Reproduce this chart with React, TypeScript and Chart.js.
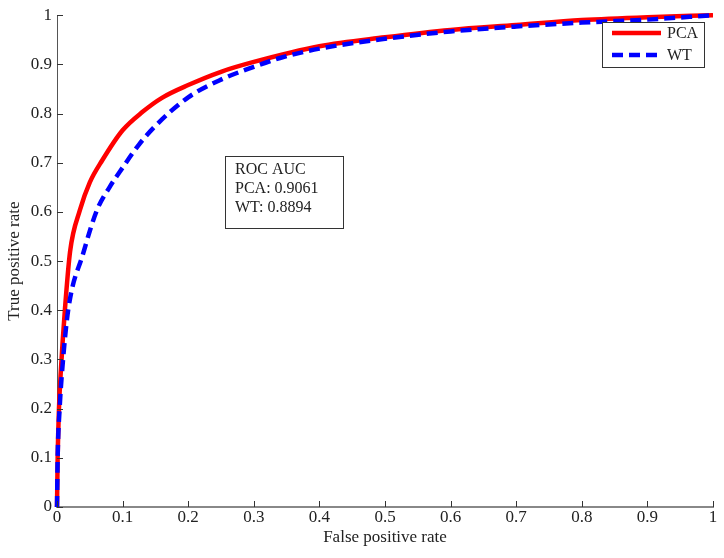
import React, { useEffect, useRef } from "react";
import { Chart, registerables } from "chart.js";

Chart.register(...registerables);

const pcaX = [0, 0.001, 0.003, 0.006, 0.012, 0.02, 0.035, 0.05, 0.069, 0.1, 0.13, 0.16, 0.2, 0.25, 0.3, 0.4, 0.5, 0.6, 0.7, 0.8, 0.9, 1];
const pcaY = [0, 0.1, 0.2, 0.28, 0.4, 0.52, 0.604, 0.66, 0.705, 0.766, 0.803, 0.832, 0.858, 0.885, 0.905, 0.937, 0.955, 0.97, 0.98, 0.99, 0.996, 1];
const wtX = [0, 0.001, 0.004, 0.008, 0.017, 0.04, 0.061, 0.08, 0.1, 0.125, 0.15, 0.2, 0.25, 0.3, 0.34, 0.4, 0.5, 0.6, 0.7, 0.8, 0.9, 1];
const wtY = [0, 0.1, 0.2, 0.28, 0.4, 0.516, 0.604, 0.65, 0.69, 0.737, 0.775, 0.833, 0.869, 0.895, 0.913, 0.932, 0.952, 0.967, 0.977, 0.985, 0.991, 1];
const seriesNames = ["PCA", "WT"];
const annotationLines = ["ROC AUC", "PCA: 0.9061", "WT: 0.8894"];
const xTitle = "False positive rate";
const yTitle = "True positive rate";

const FONT = "'Liberation Serif', 'Times New Roman', serif";

const innerTicks = {
  id: "innerTicks",
  afterDraw(chart: any) {
    const ctx = chart.ctx;
    const { left, bottom } = chart.chartArea;
    const xs = chart.scales.x;
    const ys = chart.scales.y;
    ctx.save();
    ctx.strokeStyle = "#333";
    ctx.lineWidth = 1;
    xs.ticks.forEach((t: any) => {
      const px = Math.round(xs.getPixelForValue(t.value)) + 0.5;
      ctx.beginPath();
      ctx.moveTo(px, bottom);
      ctx.lineTo(px, bottom - 6);
      ctx.stroke();
    });
    ys.ticks.forEach((t: any) => {
      const py = Math.round(ys.getPixelForValue(t.value)) + 0.5;
      ctx.beginPath();
      ctx.moveTo(left, py);
      ctx.lineTo(left + 6, py);
      ctx.stroke();
    });
    ctx.restore();
  },
};

const boxes = {
  id: "boxes",
  afterDraw(chart: any) {
    const ctx = chart.ctx;
    ctx.save();
    ctx.font = `16px ${FONT}`;
    ctx.textBaseline = "middle";
    // legend
    ctx.fillStyle = "#fff";
    ctx.fillRect(602, 22, 102, 45);
    ctx.strokeStyle = "#333";
    ctx.lineWidth = 1;
    ctx.strokeRect(602.5, 22.5, 102, 45);
    const ds = chart.data.datasets;
    const rows = [33, 55];
    ds.forEach((d: any, i: number) => {
      ctx.beginPath();
      ctx.strokeStyle = d.borderColor;
      ctx.lineWidth = d.borderWidth;
      ctx.setLineDash(d.borderDash || []);
      ctx.moveTo(612, rows[i]);
      ctx.lineTo(661, rows[i]);
      ctx.stroke();
      ctx.setLineDash([]);
      ctx.fillStyle = "#222";
      ctx.fillText(d.label, 667, rows[i] + 1);
    });
    // annotation
    ctx.strokeStyle = "#333";
    ctx.lineWidth = 1;
    ctx.strokeRect(225.5, 156.5, 118, 72);
    ctx.fillStyle = "#222";
    annotationLines.forEach((s, i) => {
      ctx.fillText(s, 235, 170 + i * 19);
    });
    ctx.restore();
  },
};

export default function App() {
  const ref = useRef<HTMLCanvasElement | null>(null);
  useEffect(() => {
    if (!ref.current) return;
    const chart = new Chart(ref.current, {
      type: "line",
      data: {
        datasets: [
          {
            label: seriesNames[0],
            data: pcaX.map((x, i) => ({ x, y: pcaY[i] })),
            borderColor: "#ff0000",
            borderWidth: 4.5,
            pointRadius: 0,
            cubicInterpolationMode: "monotone",
            order: 2,
            clip: 8,
          },
          {
            label: seriesNames[1],
            data: wtX.map((x, i) => ({ x, y: wtY[i] })),
            borderColor: "#0000ff",
            borderWidth: 4.5,
            borderDash: [11, 6],
            pointRadius: 0,
            cubicInterpolationMode: "monotone",
            order: 1,
            clip: 8,
          },
        ],
      },
      options: {
        animation: false,
        responsive: false,
        devicePixelRatio: 1,
        layout: { padding: { left: 0, right: 11, top: 15, bottom: 0 } },
        plugins: { legend: { display: false }, tooltip: { enabled: false } },
        scales: {
          x: {
            type: "linear",
            min: 0,
            max: 1,
            afterFit: (s: any) => { s.height = 51; },
            ticks: {
              stepSize: 0.1,
              color: "#222",
              font: { family: FONT, size: 17 },
              padding: 0,
              maxRotation: 0,
              callback: (v: any) => String(Math.round(Number(v) * 10) / 10),
            },
            grid: { display: false, drawTicks: false },
            border: { display: true, color: "#888", width: 2 },
            title: {
              display: true,
              text: xTitle,
              color: "#222",
              font: { family: FONT, size: 17 },
              padding: { top: 0, bottom: 10 },
            },
          },
          y: {
            type: "linear",
            min: 0,
            max: 1,
            afterFit: (s: any) => { s.width = 57; },
            ticks: {
              stepSize: 0.1,
              color: "#222",
              font: { family: FONT, size: 17 },
              padding: 5,
              callback: (v: any) => String(Math.round(Number(v) * 10) / 10),
            },
            grid: { display: false, drawTicks: false },
            border: { display: true, color: "#555", width: 1 },
            title: {
              display: true,
              text: yTitle,
              color: "#222",
              font: { family: FONT, size: 17 },
              padding: { top: 4, bottom: 0 },
            },
          },
        },
      },
      plugins: [innerTicks, boxes],
    });
    return () => chart.destroy();
  }, []);
  return (
    <div style={{ position: "fixed", left: 0, top: 0, width: 724, height: 558, background: "#fff" }}>
      <canvas ref={ref} width={724} height={558} style={{ width: 724, height: 558, display: "block" }} />
    </div>
  );
}
